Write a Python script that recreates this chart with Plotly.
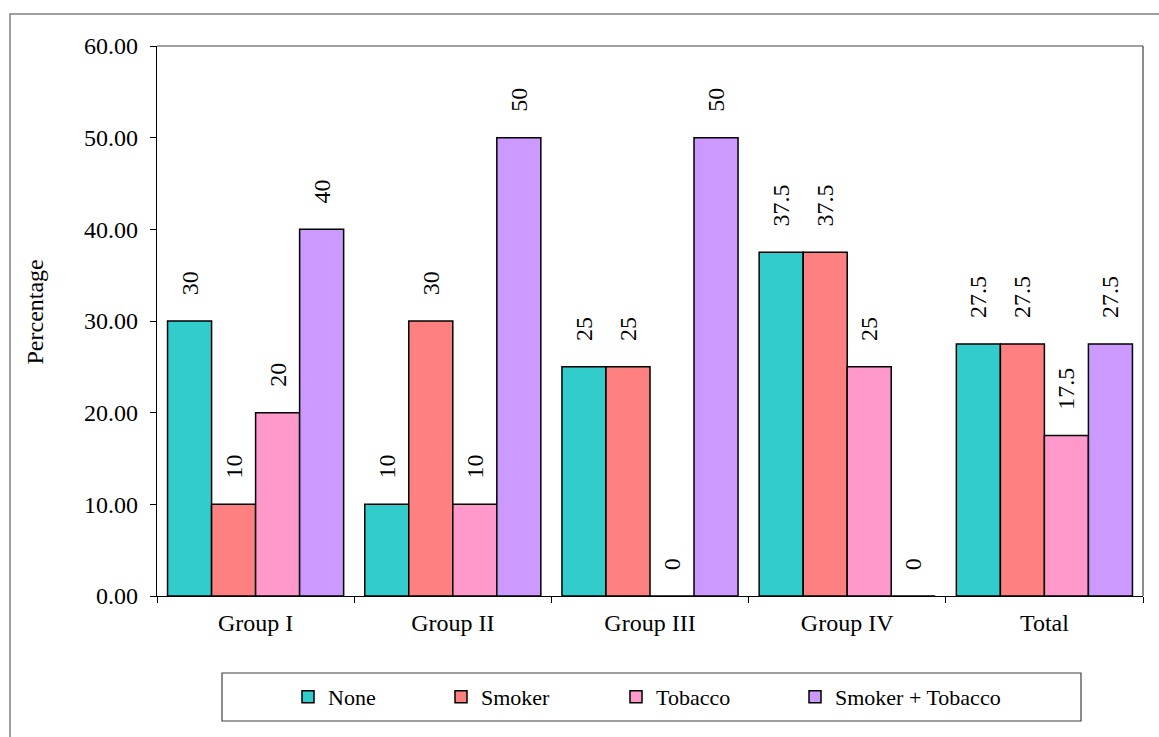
import plotly.graph_objects as go

categories = ["Group I", "Group II", "Group III", "Group IV", "Total"]
series_names = ["None", "Smoker", "Tobacco", "Smoker + Tobacco"]
none_vals = [30, 10, 25, 37.5, 27.5]
smoker_vals = [10, 30, 25, 37.5, 27.5]
tobacco_vals = [20, 10, 0, 25, 17.5]
smoker_tobacco_vals = [40, 50, 50, 0, 27.5]
y_ticks = [0, 10, 20, 30, 40, 50, 60]

colors = ["#33CCCC", "#FF8080", "#FF99CC", "#CC99FF"]
FONT = "Liberation Serif"

W, H = 1159, 737
L, R, T, B = 157, 16, 46, 141
PW, PH = W - L - R, H - T - B


def px(x):
    return (x - L) / PW


def py(y):
    return (H - B - y) / PH


fig = go.Figure()
all_vals = [none_vals, smoker_vals, tobacco_vals, smoker_tobacco_vals]
legend_ids = ["legend", "legend2", "legend3", "legend4"]
for name, vals, col, lg in zip(series_names, all_vals, colors, legend_ids):
    fig.add_trace(go.Bar(
        x=categories, y=vals, name=name,
        marker=dict(color=col, line=dict(color="black", width=1.5)),
        text=[f"{v:g}" for v in vals],
        texttemplate="\u00a0\u00a0\u00a0\u2009%{text}",
        textposition="outside", textangle=-90, constraintext="none",
        textfont=dict(family=FONT, size=24, color="black"),
        outsidetextfont=dict(family=FONT, size=24, color="black"),
        cliponaxis=False, legend=lg,
    ))

text_starts = [328, 481, 656, 835]
legend_cfg = {}
for lg, ts in zip(legend_ids, text_starts):
    legend_cfg[lg] = dict(
        x=px(ts - 40), y=py(697), xanchor="left", yanchor="middle",
        orientation="h", bgcolor="rgba(0,0,0,0)", borderwidth=0,
        font=dict(family=FONT, size=22, color="black"),
    )

shapes = [
    # outer chart border
    dict(type="rect", xref="paper", yref="paper", x0=px(10), x1=px(1170),
         y0=py(750), y1=py(14), line=dict(color="#808080", width=1.5)),
    # plot area top and right
    dict(type="line", xref="paper", yref="paper", x0=0, x1=1, y0=1, y1=1,
         line=dict(color="#808080", width=1.5)),
    dict(type="line", xref="paper", yref="paper", x0=1, x1=1, y0=0, y1=1,
         line=dict(color="#404040", width=1.2)),
    # legend box
    dict(type="rect", xref="paper", yref="paper", x0=px(222), x1=px(1081),
         y0=py(721), y1=py(673), line=dict(color="#404040", width=1.2)),
]

fig.update_layout(
    width=W, height=H,
    margin=dict(l=L, r=R, t=T, b=B, autoexpand=False),
    paper_bgcolor="white", plot_bgcolor="white",
    barmode="group", bargap=0.107, bargroupgap=0,
    font=dict(family=FONT, size=24, color="black"),
    shapes=shapes,
    annotations=[dict(text="Percentage", xref="paper", yref="paper",
                      x=px(34), y=py(312.5), xanchor="center", yanchor="middle",
                      textangle=-90, showarrow=False,
                      font=dict(family=FONT, size=24, color="black"))],
    showlegend=True,
    **legend_cfg,
)
fig.update_xaxes(
    showline=True, linecolor="black", linewidth=1.2,
    ticks="outside", ticklen=6, tickcolor="black", tickson="boundaries",
    tickfont=dict(family=FONT, size=24, color="black"),
    ticklabelstandoff=5,
    showgrid=False, zeroline=False, automargin=False,
)
fig.update_yaxes(
    range=[0, 60], tickvals=y_ticks, tickformat=".2f",
    showline=True, linecolor="black", linewidth=1.2,
    ticks="outside", ticklen=6, tickcolor="black",
    tickfont=dict(family=FONT, size=24, color="black"),
    ticklabelstandoff=7,
    showgrid=False, zeroline=False, automargin=False,
)

fig.write_html("out.html")
